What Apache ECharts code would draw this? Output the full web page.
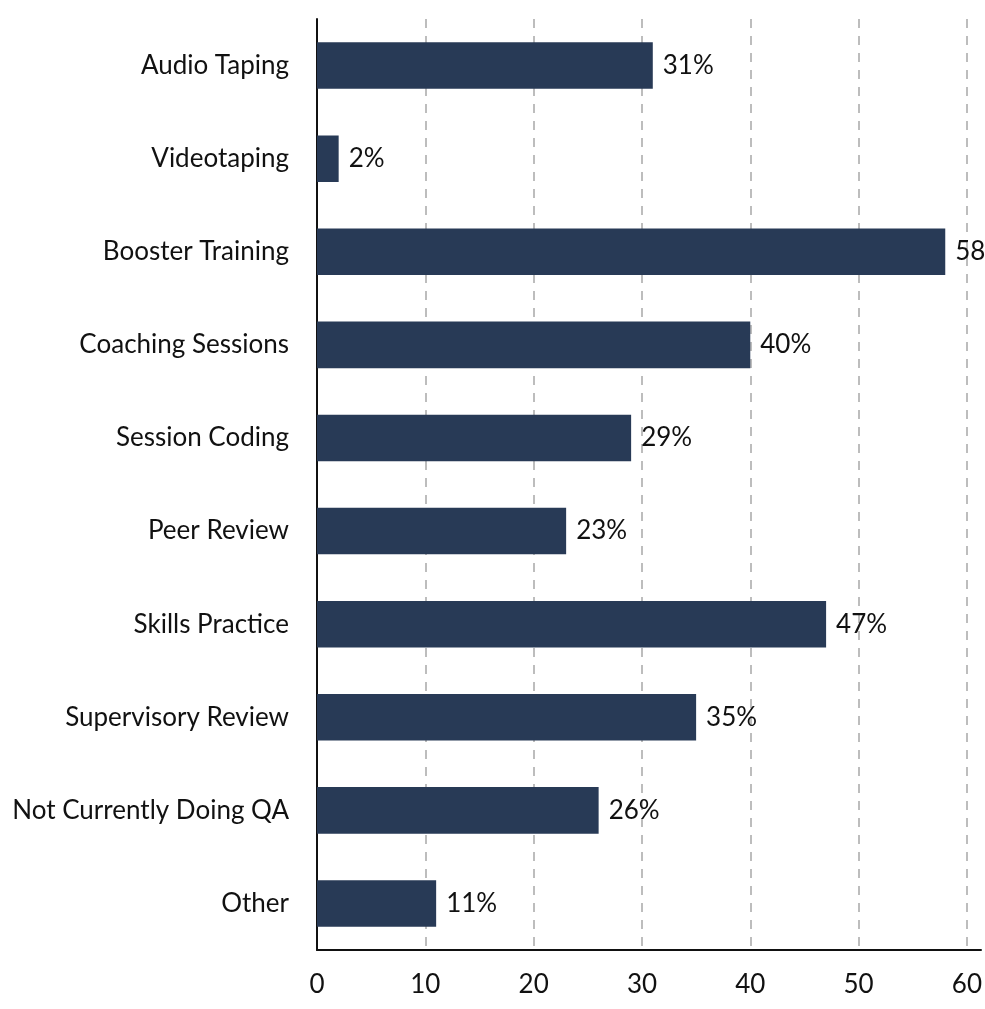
<!DOCTYPE html>
<html>
<head>
<meta charset="utf-8">
<script src="https://cdn.jsdelivr.net/npm/echarts@6/dist/echarts.min.js"></script>
<style>
  html, body { margin: 0; padding: 0; background: #fff; }
  #chart { width: 985px; height: 1009px; }
</style>
</head>
<body>
<div id="chart"></div>
<script>
// QA practices reported (percent of respondents)
const categories = [
  'Audio Taping', 'Videotaping', 'Booster Training', 'Coaching Sessions',
  'Session Coding', 'Peer Review', 'Skills Practice', 'Supervisory Review',
  'Not Currently Doing QA', 'Other'
];
const values = [31, 2, 58, 40, 29, 23, 47, 35, 26, 11];
const labelSuffix = ['%', '%', '', '%', '%', '%', '%', '%', '%', '%'];
const xTicks = [0, 10, 20, 30, 40, 50, 60];

const FONT = 'Lato, "DejaVu Sans", sans-serif';
const chart = echarts.init(document.getElementById('chart'), null, { renderer: 'canvas' });

chart.setOption({
  animation: false,
  grid: { left: 317, right: 3, top: 19, bottom: 59 },
  xAxis: {
    type: 'value',
    min: 0,
    max: 61.3,
    interval: 10,
    axisLine: { show: true, onZero: false, lineStyle: { color: '#111', width: 2 } },
    axisTick: { show: false },
    axisLabel: {
      color: '#111', fontFamily: FONT, fontSize: 26, margin: 22,
      showMaxLabel: false,
      formatter: v => (xTicks.indexOf(v) >= 0 ? String(v) : '')
    },
    splitLine: {
      show: true,
      showMinLine: false,
      showMaxLine: false,
      lineStyle: { color: '#bdbdbd', width: 2, type: [9, 8] }
    }
  },
  yAxis: {
    type: 'category',
    data: categories,
    inverse: true,
    axisLine: { show: true, lineStyle: { color: '#111', width: 2 } },
    axisTick: { show: false },
    axisLabel: { color: '#111', fontFamily: FONT, fontSize: 26, margin: 28, padding: [10, 0, 0, 0] },
    splitLine: { show: false }
  },
  series: [{
    type: 'bar',
    data: values,
    barWidth: '50%',
    itemStyle: { color: '#283a56' },
    label: {
      show: true,
      position: 'right',
      distance: 10,
      color: '#111',
      fontFamily: FONT,
      fontSize: 26,
      padding: [7, 0, 0, 0],
      formatter: p => p.value + labelSuffix[p.dataIndex]
    }
  }]
});
</script>
</body>
</html>
